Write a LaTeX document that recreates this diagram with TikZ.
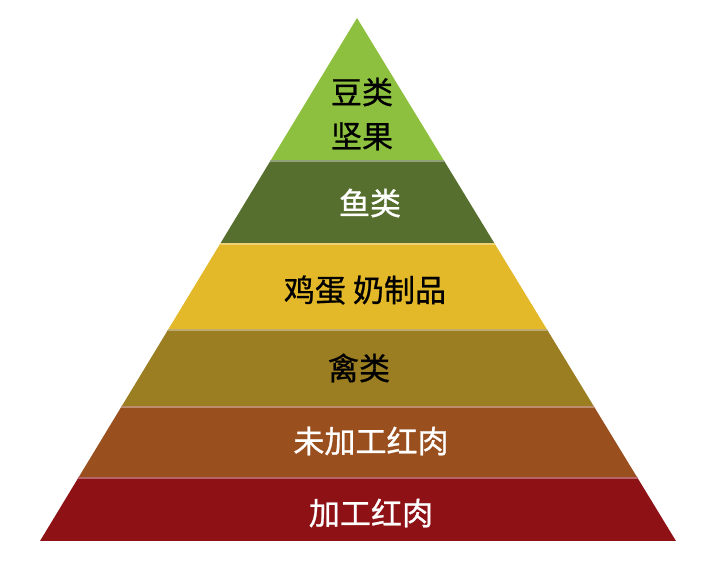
\documentclass[tikz,border=0pt]{standalone}
\usepackage{fontspec}
\newfontfamily\cjk[FakeBold=0.8]{Noto Sans CJK SC}

\definecolor{beangreen}{RGB}{141,192,63}
\definecolor{fishgreen}{RGB}{86,111,46}
\definecolor{eggyellow}{RGB}{227,184,41}
\definecolor{poultryolive}{RGB}{156,126,34}
\definecolor{freshbrown}{RGB}{154,79,30}
\definecolor{processedred}{RGB}{142,17,22}

\tikzset{every picture/.style={line width=0.75pt}}
\tikzset{
  layertext/.style={font=\cjk\fontsize{23.3}{33}\selectfont, inner sep=0.75pt, align=center},
  seam/.style={line width=1.9pt, draw=#1!65!white},
}

\begin{document}
\begin{tikzpicture}[x=0.75pt,y=0.75pt,yscale=-1,xscale=1]
    \useasboundingbox (0,0) rectangle (710,576);

    % pyramid corners
    \coordinate (apex) at (357,18);
    \coordinate (baseL) at (40,541);
    \coordinate (baseR) at (676,541);

    % layers
    \begin{scope}
        \clip (apex) -- (baseR) -- (baseL) -- cycle;
        \fill[beangreen] (0,0) rectangle (710,160);
        \fill[fishgreen] (0,160) rectangle (710,243);
        \fill[eggyellow] (0,243) rectangle (710,329);
        \fill[poultryolive] (0,329) rectangle (710,406);
        \fill[freshbrown] (0,406) rectangle (710,477);
        \fill[processedred] (0,477) rectangle (710,541);
        % light seams between layers
        \draw[seam=fishgreen] (0,161) -- (710,161);
        \draw[seam=eggyellow] (0,244) -- (710,244);
        \draw[seam=poultryolive] (0,330) -- (710,330);
        \draw[seam=freshbrown] (0,407) -- (710,407);
        \draw[seam=processedred] (0,478) -- (710,478);
    \end{scope}

    % Text Node
    \node[layertext, text=black] (beans) at (362,114) {豆类\\坚果};
    % Text Node
    \node[layertext, text=white] (fish) at (370,203) {鱼类};
    % Text Node
    \node[layertext, text=black] (eggs) at (365,290) {鸡蛋 奶制品};
    % Text Node
    \node[layertext, text=black] (poultry) at (359,368) {禽类};
    % Text Node
    \node[layertext, text=white] (redmeat) at (371,441) {未加工红肉};
    % Text Node
    \node[layertext, text=white] (processed) at (371,513) {加工红肉};

\end{tikzpicture}
\end{document}
